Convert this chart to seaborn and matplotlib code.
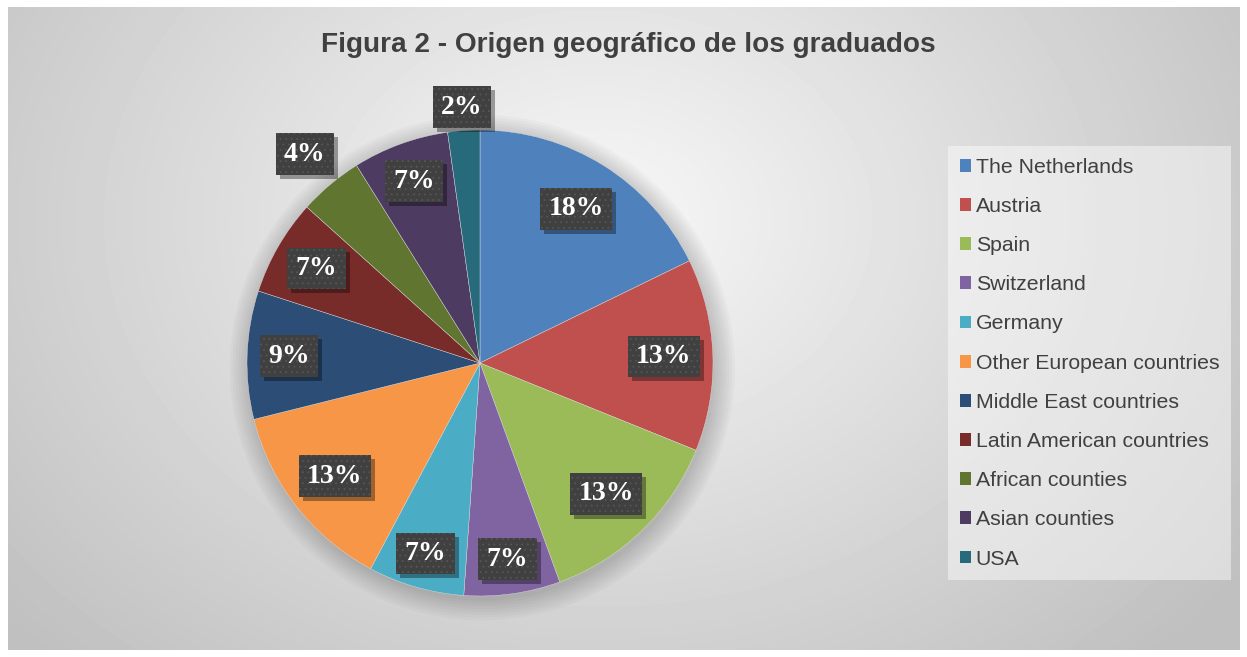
import numpy as np
import matplotlib
matplotlib.use('Agg')
import matplotlib.pyplot as plt
import matplotlib.transforms as mtransforms
import matplotlib.patheffects as pe
import seaborn as sns

# data
regions = ['The Netherlands', 'Austria', 'Spain', 'Switzerland', 'Germany',
           'Other European countries', 'Middle East countries',
           'Latin American countries', 'African counties', 'Asian counties', 'USA']
graduates = [8, 6, 6, 3, 3, 6, 4, 3, 2, 3, 1]
title = 'Figura 2 - Origen geográfico de los graduados'

colors = ['#4F81BD', '#C0504D', '#9BBB59', '#8064A2', '#4BACC6', '#F79646',
          '#2C4D75', '#772C2A', '#5F7530', '#4D3B62', '#276A7C']
# radial position of each label (fraction of radius)
label_r = [0.78, 0.79, 0.78, 0.85, 0.85, 0.79, 0.82, 0.81, 1.17, 0.83, 1.10]


class BoxShadow(pe.AbstractPathEffect):
    # plain offset shadow, without the hatch of the box
    def draw_path(self, renderer, gc, tpath, affine, rgbFace=None):
        gc0 = renderer.new_gc()
        gc0.copy_properties(gc)
        gc0.set_hatch(None)
        gc0.set_linewidth(0)
        gc0.set_alpha(0.35)
        shift = mtransforms.Affine2D().translate(4, -4)
        renderer.draw_path(gc0, tpath, affine + shift, (0, 0, 0))
        gc0.restore()


sns.set_theme(style='white')
plt.rcParams['font.family'] = ['Liberation Sans', 'DejaVu Sans']

W, H = 1247, 657
fig = plt.figure(figsize=(W / 100, H / 100), dpi=100)
fig.patch.set_facecolor('white')

# gradient background of the chart area
bg = fig.add_axes([8 / W, 7 / H, 1232 / W, 643 / H])
yy, xx = np.mgrid[7:650, 8:1240]
d = np.sqrt(((xx - 600) / 720.0) ** 2 + ((yy - 220) / 560.0) ** 2)
shade = np.clip(0.97 - 0.2 * d, 0.75, 1)
bg.imshow(shade, cmap='gray', vmin=0, vmax=1, aspect='auto', extent=[0, 1, 0, 1])
bg.axis('off')

fig.text(628 / W, 1 - 45 / H, title, ha='center', va='center',
         fontsize=20.2, fontweight='bold', color='#404040')

# pie
cx, cy, R = 480, 363, 233
ax = fig.add_axes([(cx - R) / W, (H - cy - R) / H, 2 * R / W, 2 * R / H])
total = sum(graduates)

# soft shadow under the pie
for k in range(8):
    ax.add_patch(plt.Circle((0.01, -0.02), 1.0 + 0.012 * k, color='black',
                            alpha=0.025, lw=0, zorder=0, clip_on=False))

wedges, _ = ax.pie(graduates, colors=colors, startangle=90, counterclock=False,
                   radius=1, wedgeprops=dict(edgecolor='#dddddd', linewidth=0.3))
ax.set_xlim(-1, 1)
ax.set_ylim(-1, 1)
ax.set_aspect('equal')
ax.axis('off')

plt.rcParams['hatch.linewidth'] = 0.6
for w, v, r in zip(wedges, graduates, label_r):
    ang = np.deg2rad((w.theta1 + w.theta2) / 2)
    t = ax.text(r * np.cos(ang), r * np.sin(ang), f'{round(100 * v / total)}%',
                ha='center', va='center', fontsize=20, fontweight='bold',
                color='white', family=['Liberation Serif', 'DejaVu Serif'], zorder=5,
                bbox=dict(boxstyle='square,pad=0.3', fc='#404040', ec='#565656',
                          lw=0, hatch='...'))
    t.get_bbox_patch().set_path_effects([BoxShadow(), pe.Normal()])

leg = fig.legend(wedges, regions, loc='upper left',
                 bbox_to_anchor=(948 / W, 1 - 146 / H), frameon=True,
                 facecolor='white', framealpha=0.45, edgecolor='none',
                 fancybox=False, fontsize=15.3, labelcolor='#404040',
                 handlelength=0.55, handleheight=0.55, handletextpad=0.2,
                 labelspacing=0.95, borderpad=0.55, borderaxespad=0)
for h in leg.legend_handles:
    h.set_edgecolor('none')

fig.savefig('out.png', dpi=100, facecolor=fig.get_facecolor())
